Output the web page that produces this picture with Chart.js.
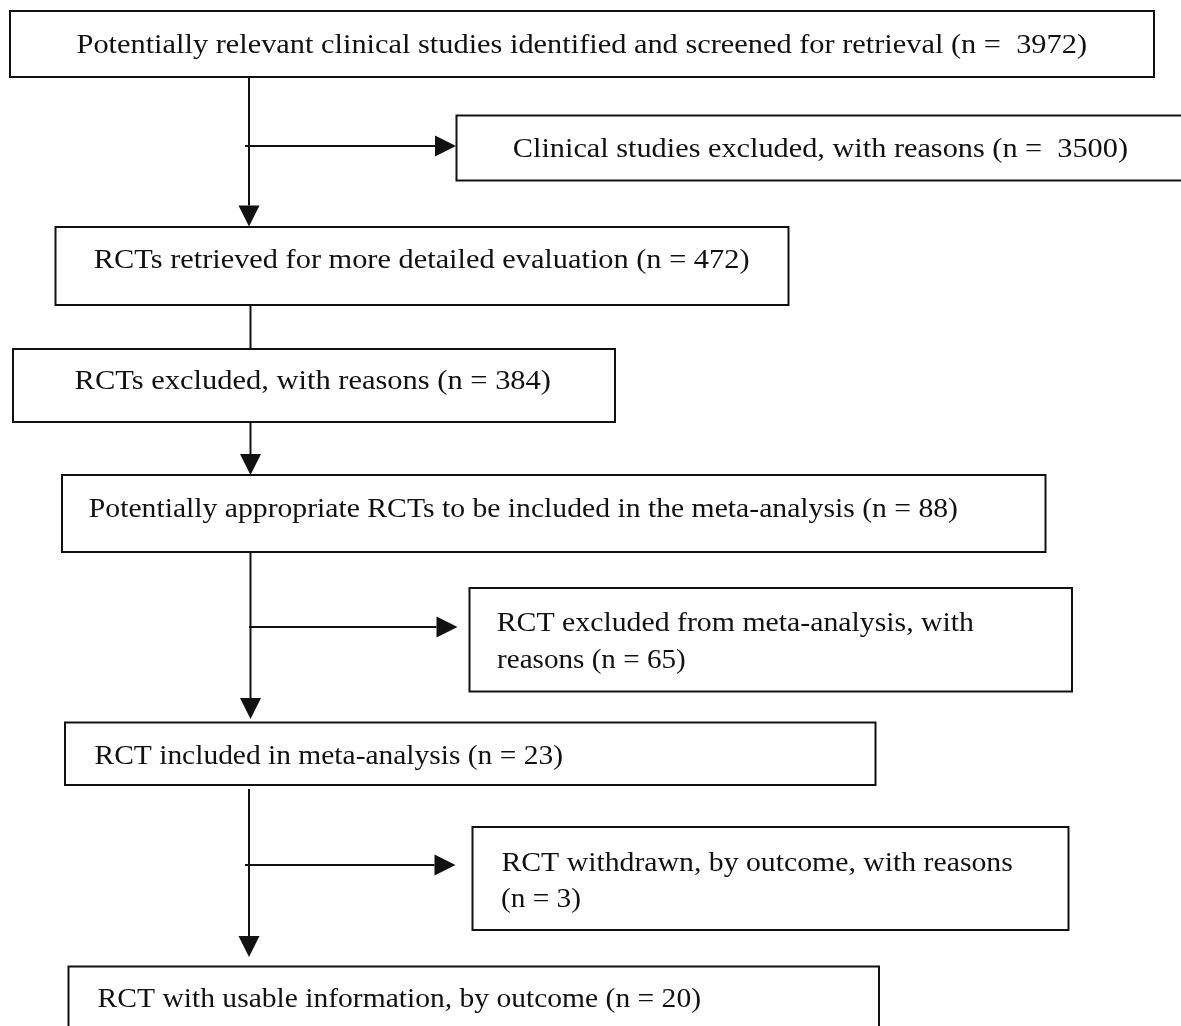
<!DOCTYPE html>
<html>
<head>
<meta charset="utf-8">
<script src="https://cdn.jsdelivr.net/npm/chart.js@4.4.1/dist/chart.umd.min.js"></script>
<style>
	html, body { margin: 0; padding: 0; background: #fff; }
	#wrap { width: 1181px; height: 1026px; position: relative; }
</style>
</head>
<body>
<div id="wrap"><canvas id="flow"></canvas></div>
<script>
// flow stages, in reading order
const stageLabels = [
	'Potentially relevant clinical studies identified and screened for retrieval',
	'Clinical studies excluded, with reasons',
	'RCTs retrieved for more detailed evaluation',
	'RCTs excluded, with reasons',
	'Potentially appropriate RCTs to be included in the meta-analysis',
	'RCT excluded from meta-analysis, with\nreasons',
	'RCT included in meta-analysis',
	'RCT withdrawn, by outcome, with reasons\n',
	'RCT with usable information, by outcome'
];
const stageCounts = [3972, 3500, 472, 384, 88, 65, 23, 3, 20];

// layout in picture units (x to the right, y downwards)
const boxes = [
	{ x0: 10, y0: 11, x1: 1154, y1: 77, lines: [[76.5, 1087, 53]] },
	{ x0: 456.5, y0: 115.5, x1: 1195, y1: 180.5, lines: [[512.8, 1128, 157]] },
	{ x0: 55.5, y0: 227, x1: 788.5, y1: 305, lines: [[93.8, 749.5, 268]] },
	{ x0: 13, y0: 349, x1: 615, y1: 422, lines: [[74.6, 551, 389]] },
	{ x0: 62, y0: 475, x1: 1045.5, y1: 552, lines: [[88.8, 958, 516.7]] },
	{ x0: 469.5, y0: 588, x1: 1072, y1: 691.5, lines: [[496.7, 974, 630.7], [497, 685.7, 668]] },
	{ x0: 65, y0: 722.5, x1: 875.5, y1: 785, lines: [[94.5, 563, 764]] },
	{ x0: 472.5, y0: 827, x1: 1068.5, y1: 930, lines: [[501.4, 1012.8, 870.7], [501, 581, 906.7]] },
	{ x0: 68.5, y0: 966.5, x1: 879, y1: 1060, lines: [[97.6, 701, 1006.7]] }
];

const links = [
	{ a: [249, 77], b: [249, 226.5], head: true },
	{ a: [245, 146], b: [456, 146], head: true },
	{ a: [250.5, 305], b: [250.5, 349], head: false },
	{ a: [250.5, 422], b: [250.5, 475], head: true },
	{ a: [250.5, 552], b: [250.5, 719], head: true },
	{ a: [249, 627], b: [457.5, 627], head: true },
	{ a: [249, 789], b: [249, 957], head: true },
	{ a: [245, 865], b: [455.5, 865], head: true }
];

const INK = '#111';
const FONT = '28px "Liberation Serif", "Times New Roman", serif';

function stageLines(i) {
	const gap = stageCounts[i] >= 1000 ? '  ' : ' ';
	const txt = stageLabels[i] + ' (n =' + gap + stageCounts[i] + ')';
	return txt.split('\n').map(s => s.trim());
}

const flowPlugin = {
	id: 'flow',
	beforeDraw(chart) {
		const ctx = chart.ctx;
		ctx.save();
		ctx.fillStyle = '#fff';
		ctx.fillRect(0, 0, chart.width, chart.height);
		ctx.restore();
	},
	afterDraw(chart) {
		const ctx = chart.ctx;
		const sx = chart.scales.x, sy = chart.scales.y;
		const px = v => sx.getPixelForValue(v);
		const py = v => sy.getPixelForValue(v);

		ctx.save();
		ctx.strokeStyle = INK;
		ctx.fillStyle = INK;
		ctx.lineWidth = 2;

		// connectors
		links.forEach(l => {
			const x0 = px(l.a[0]), y0 = py(l.a[1]);
			const x1 = px(l.b[0]), y1 = py(l.b[1]);
			const len = 21, half = 10.5;
			const vert = x0 === x1;
			let ex = x1, ey = y1;
			if (l.head) {
				if (vert) ey = y1 - len; else ex = x1 - len;
			}
			ctx.beginPath();
			ctx.moveTo(x0, y0);
			ctx.lineTo(ex, ey);
			ctx.stroke();
			if (l.head) {
				ctx.beginPath();
				if (vert) {
					ctx.moveTo(x1, y1);
					ctx.lineTo(x1 - half, y1 - len);
					ctx.lineTo(x1 + half, y1 - len);
				} else {
					ctx.moveTo(x1, y1);
					ctx.lineTo(x1 - len, y1 - half);
					ctx.lineTo(x1 - len, y1 + half);
				}
				ctx.closePath();
				ctx.fill();
			}
		});

		// boxes and their text
		ctx.font = FONT;
		ctx.textBaseline = 'alphabetic';
		ctx.textAlign = 'left';
		boxes.forEach((b, i) => {
			const x0 = px(b.x0), y0 = py(b.y0), x1 = px(b.x1), y1 = py(b.y1);
			ctx.fillStyle = '#fff';
			ctx.fillRect(x0, y0, x1 - x0, y1 - y0);
			ctx.strokeRect(x0, y0, x1 - x0, y1 - y0);

			ctx.fillStyle = INK;
			const texts = stageLines(i);
			b.lines.forEach((ln, k) => {
				const t = texts[k];
				if (!t) return;
				const left = px(ln[0]), right = px(ln[1]), base = py(ln[2]);
				const w = ctx.measureText(t).width;
				ctx.save();
				ctx.translate(left, base);
				ctx.scale((right - left) / w, 1);
				ctx.fillText(t, 0, 0);
				ctx.restore();
			});
		});
		ctx.restore();
	}
};

new Chart(document.getElementById('flow'), {
	type: 'scatter',
	data: { datasets: [{ data: [], pointRadius: 0 }] },
	options: {
		responsive: true,
		maintainAspectRatio: false,
		animation: false,
		events: [],
		layout: { padding: 0 },
		plugins: { legend: { display: false }, tooltip: { enabled: false } },
		scales: {
			x: { type: 'linear', min: 0, max: 1181, display: false },
			y: { type: 'linear', min: 0, max: 1026, reverse: true, display: false }
		}
	},
	plugins: [flowPlugin]
});
</script>
</body>
</html>
